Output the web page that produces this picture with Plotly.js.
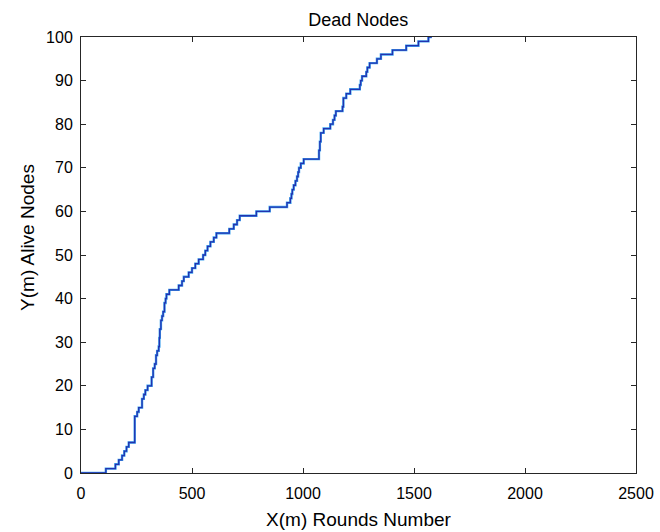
<!DOCTYPE html>
<html>
<head>
<meta charset="utf-8">
<script src="https://cdn.plot.ly/plotly-3.0.1.min.js"></script>
<style>html,body{margin:0;padding:0;background:#fff;}#chart{width:660px;height:532px;}</style>
</head>
<body>
<div id="chart"></div>
<script>
const rounds = [0,112,155,170,185,195,205,215,242,253,260,275,283,290,300,318,325,332,338,343,350,353,355,360,365,370,376,381,385,398,440,455,463,485,500,515,530,550,560,570,583,598,610,668,688,703,715,790,850,928,943,948,952,958,966,973,978,982,990,1003,1072,1076,1080,1093,1123,1135,1142,1148,1178,1182,1195,1213,1256,1260,1266,1285,1290,1300,1333,1351,1403,1465,1520,1565,1580];
const deadNodes = [0,1,2,3,4,5,6,7,13,14,15,17,18,19,20,22,24,25,27,28,29,31,33,35,36,37,39,40,41,42,43,44,45,46,47,48,49,50,51,52,53,54,55,56,57,58,59,60,61,62,63,64,65,66,67,68,69,70,71,72,74,76,78,79,80,81,82,83,84,86,87,88,89,90,91,92,93,94,95,96,97,98,99,100,100];
const xTicks = [0,500,1000,1500,2000,2500];
const yTicks = [0,10,20,30,40,50,60,70,80,90,100];

const FONT = 'Liberation Sans, Arial, Helvetica, sans-serif';
const traces = [
  {x: rounds, y: deadNodes, type: 'scatter', mode: 'lines', line: {shape: 'hv', color: '#3fa2ee', width: 2.4}, hoverinfo: 'skip', showlegend: false},
  {x: rounds, y: deadNodes, type: 'scatter', mode: 'lines', line: {shape: 'hv', color: '#2232b0', width: 1.3}, showlegend: false}
];
const axisCommon = {
  showgrid: false, zeroline: false, showline: true, linecolor: '#262626', linewidth: 1,
  mirror: 'ticks', ticks: 'inside', ticklen: 5, tickcolor: '#262626', tickwidth: 1,
  tickfont: {family: FONT, size: 16, color: '#000'}
};
const layout = {
  width: 660, height: 532,
  margin: {l: 81, r: 24, t: 37, b: 59, pad: 0},
  paper_bgcolor: '#fff', plot_bgcolor: '#fff',
  font: {family: FONT, color: '#000'},
  title: {text: 'Dead Nodes', font: {family: FONT, size: 18, color: '#000'}, x: 0.5427, xanchor: 'center', y: 1 - 20/532, yanchor: 'middle', yref: 'container'},
  xaxis: Object.assign({}, axisCommon, {range: [0, 2500], tickvals: xTicks, ticktext: xTicks.map(String), ticklabelstandoff: 6,
    title: {text: 'X(m) Rounds Number', font: {family: FONT, size: 19, color: '#000'}, standoff: 11}}),
  yaxis: Object.assign({}, axisCommon, {range: [0, 100], tickvals: yTicks, ticktext: yTicks.map(String), ticklabelstandoff: 4}),
  annotations: [{text: 'Y(m) Alive Nodes', textangle: -90, xref: 'paper', yref: 'paper', x: -0.0975, xanchor: 'center', y: (473 - 237) / 436, yanchor: 'middle', showarrow: false, font: {family: FONT, size: 19, color: '#000'}}]
};
Plotly.newPlot('chart', traces, layout, {displayModeBar: false, staticPlot: true});
</script>
</body>
</html>
